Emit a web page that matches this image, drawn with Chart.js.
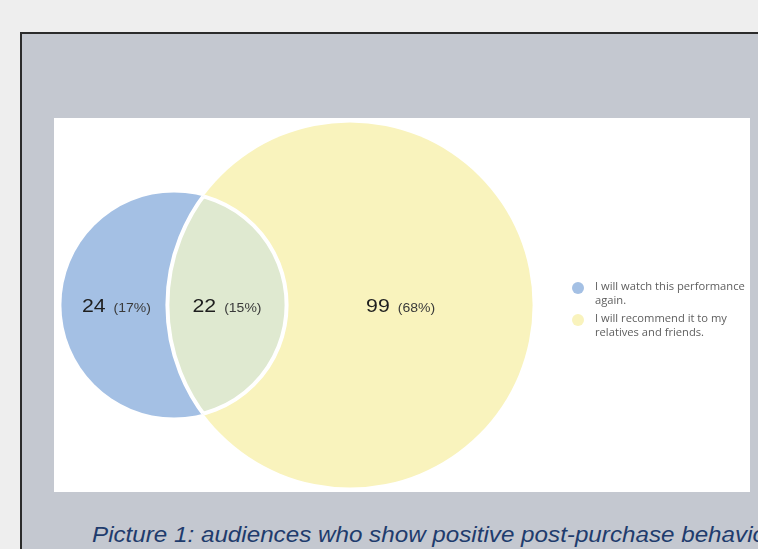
<!DOCTYPE html>
<html>
<head>
<meta charset="utf-8">
<script src="https://cdn.jsdelivr.net/npm/chart.js@4.4.1/dist/chart.umd.min.js"></script>
<style>
html, body { margin: 0; padding: 0; width: 758px; height: 549px; overflow: hidden; background: #eeeeee; }
#frame { position: absolute; left: 20px; top: 32px; width: 800px; height: 600px; background: #c4c8d0;
         border-top: 2px solid #2b2b2b; border-left: 2px solid #2b2b2b; }
#panel { position: absolute; left: 54px; top: 118px; width: 696px; height: 374px; background: #ffffff; }
#caption { position: absolute; left: 92px; top: 522px; margin: 0; white-space: nowrap;
           font: italic 22px "Liberation Sans", Arial, sans-serif; color: #1f3c6d;
           transform: scaleX(1.1); transform-origin: left top; }
</style>
</head>
<body>
<div id="frame"></div>
<div id="panel"><canvas id="venn" width="696" height="374"></canvas></div>
<p id="caption">Picture 1: audiences who show positive post-purchase behavior</p>

<script>
// sets of the diagram (legend text, already wrapped as in the picture)
const setLabels = [
    ['I will watch this performance', 'again.'],
    ['I will recommend it to my', 'relatives and friends.']
];
// region counts: only set A, A and B, only set B
const regionCounts = [24, 22, 99];
const setTotals = [regionCounts[0] + regionCounts[1], regionCounts[1] + regionCounts[2]];
const grandTotal = regionCounts.reduce((a, b) => a + b, 0);

// layout (data units of the hidden scales)
const centerX = [120, 296];
const centerY = 187;
const unitPerSqrt = 16.6;
const colors = ['#a4c0e4', '#f9f3bd'];
const lensColor = '#dfe9d0';
const stretch = 1.12; // labels look a bit wide in the picture

function radiusFor(chart, total) {
    const s = chart.scales.x;
    const r = Math.abs(s.getPixelForValue(unitPerSqrt * Math.sqrt(total)) - s.getPixelForValue(0));
    return isFinite(r) ? r : 0;
}

function wideText(ctx, text, x, y) {
    ctx.save();
    ctx.translate(x, y);
    ctx.scale(stretch, 1);
    ctx.fillText(text, 0, 0);
    ctx.restore();
}

const vennPlugin = {
    id: 'venn',
    afterDatasetsDraw(chart) {
        const ctx = chart.ctx;
        const a = chart.getDatasetMeta(0).data[0];
        const b = chart.getDatasetMeta(1).data[0];
        const ra = a.options.radius, rb = b.options.radius;
        if (!(ra > 0) || !(rb > 0)) return;

        // overlap area, white edges
        ctx.save();
        ctx.beginPath(); ctx.arc(a.x, a.y, ra, 0, Math.PI * 2); ctx.clip();
        ctx.beginPath(); ctx.arc(b.x, b.y, rb, 0, Math.PI * 2);
        ctx.fillStyle = lensColor; ctx.fill();
        ctx.strokeStyle = '#ffffff'; ctx.lineWidth = 4; ctx.stroke();
        ctx.restore();
        ctx.save();
        ctx.beginPath(); ctx.arc(b.x, b.y, rb, 0, Math.PI * 2); ctx.clip();
        ctx.beginPath(); ctx.arc(a.x, a.y, ra, 0, Math.PI * 2);
        ctx.strokeStyle = '#ffffff'; ctx.lineWidth = 4; ctx.stroke();
        ctx.restore();

        // region labels
        const xs = [
            ((a.x - ra) + (b.x - rb)) / 2 + 2,
            ((b.x - rb) + (a.x + ra)) / 2,
            ((a.x + ra) + (b.x + rb)) / 2 - 9
        ];
        ctx.save();
        ctx.textBaseline = 'alphabetic';
        ctx.textAlign = 'left';
        regionCounts.forEach((v, i) => {
            const big = String(v);
            const small = '(' + Math.round(v / grandTotal * 100) + '%)';
            ctx.font = '19px "Liberation Sans", Arial, sans-serif';
            const w1 = ctx.measureText(big).width * stretch;
            ctx.font = '12.5px "Liberation Sans", Arial, sans-serif';
            const w2 = ctx.measureText(small).width * stretch;
            const gap = 8;
            const x = xs[i] - (w1 + gap + w2) / 2;
            const y = a.y + 7;
            ctx.fillStyle = '#1e1e1e';
            ctx.font = '19px "Liberation Sans", Arial, sans-serif';
            wideText(ctx, big, x, y);
            ctx.fillStyle = '#3a3a3a';
            ctx.font = '12.5px "Liberation Sans", Arial, sans-serif';
            wideText(ctx, small, x + w1 + gap, y);
        });
        ctx.restore();

        // legend
        ctx.save();
        const lx = 524, ly = [170, 202];
        setLabels.forEach((lines, i) => {
            ctx.beginPath();
            ctx.arc(lx, ly[i], 6, 0, Math.PI * 2);
            ctx.fillStyle = colors[i]; ctx.fill();
            ctx.fillStyle = '#5e5e5e';
            ctx.font = '11.2px "Open Sans", "Noto Sans", sans-serif';
            ctx.textBaseline = 'middle';
            lines.forEach((t, j) => ctx.fillText(t, lx + 17, ly[i] - 1 + j * 13.5));
        });
        ctx.restore();
    }
};

new Chart(document.getElementById('venn'), {
    type: 'scatter',
    data: {
        datasets: setTotals.map((t, i) => ({
            label: setLabels[i].join(' '),
            data: [{ x: centerX[i], y: centerY }],
            pointBackgroundColor: colors[i],
            pointBorderWidth: 0,
            order: i === 0 ? 1 : 0,
            pointRadius: (c) => radiusFor(c.chart, t)
        }))
    },
    options: {
        responsive: false,
        animation: false,
        events: [],
        layout: { padding: 0 },
        scales: {
            x: { type: 'linear', min: 0, max: 696, display: false },
            y: { type: 'linear', min: 0, max: 374, display: false }
        },
        plugins: { legend: { display: false }, tooltip: { enabled: false } }
    },
    plugins: [vennPlugin]
});
</script>
</body>
</html>
